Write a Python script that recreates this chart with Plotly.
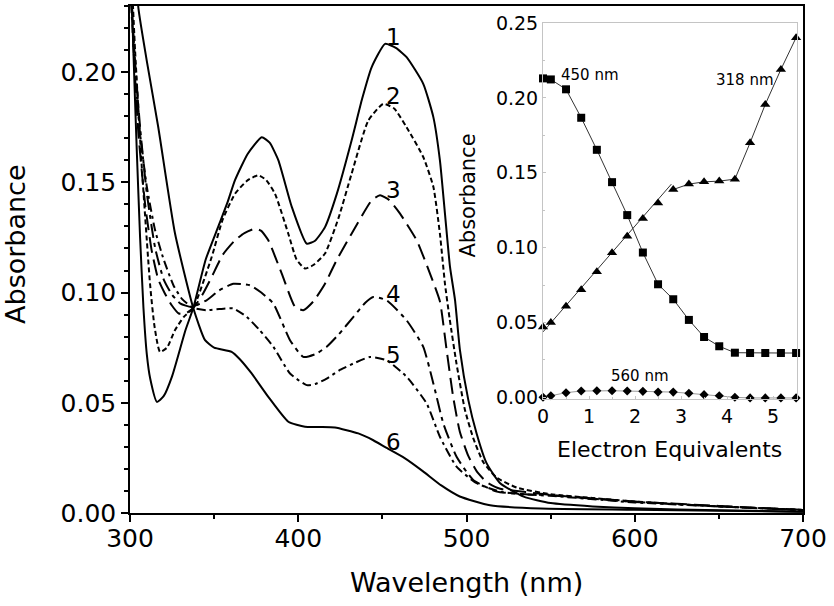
import plotly.graph_objects as go

# ---------------- main spectra (wavelength nm, absorbance) ----------------
wl1 = [300, 302, 304, 306, 308, 310, 312, 316, 320, 325, 333, 337.6, 345, 352.5, 358, 362.4, 370, 378.3, 383, 388.2,
       396.1, 405, 410, 415.9, 423, 431.7, 438, 443.6, 451.6, 458, 464.4, 474.3, 480.3, 484.2, 487.2, 490.2, 493.2,
       496.1, 501.1, 506, 512, 520, 534, 550, 575, 600, 650, 700]
ab1 = [0.262, 0.21, 0.165, 0.125, 0.093, 0.072, 0.061, 0.0504, 0.053, 0.062, 0.083, 0.093, 0.115, 0.13, 0.141, 0.151,
       0.163, 0.1705, 0.168, 0.160, 0.139, 0.1222, 0.1235, 0.1297, 0.145, 0.169, 0.188, 0.2022, 0.2128, 0.211, 0.2068,
       0.1947, 0.1796, 0.160, 0.1358, 0.1116, 0.0965, 0.0739, 0.0512, 0.0361, 0.0225, 0.0135, 0.0074, 0.0045, 0.003,
       0.0021, 0.0012, 0.0006]

wl2 = [300, 303, 307, 311.9, 314.5, 317.8, 322, 326.7, 332, 337.6, 348.5, 355, 362.4, 370, 376.3, 381, 386.2, 394.1,
       399, 404, 409, 415.9, 424, 431.7, 441.6, 450.5, 457, 464.4, 474.3, 480.3, 484.2, 487.2, 490, 494, 499, 504, 510,
       518, 530, 550, 575, 600, 650, 700]
ab2 = [0.26, 0.21, 0.157, 0.104, 0.085, 0.0731, 0.075, 0.0829, 0.089, 0.093, 0.116, 0.133, 0.1448, 0.151, 0.1532,
       0.151, 0.1448, 0.1267, 0.115, 0.1109, 0.1125, 0.1177, 0.134, 0.1539, 0.178, 0.1856, 0.1835, 0.175, 0.1615, 0.148,
       0.1267, 0.104, 0.088, 0.068, 0.047, 0.034, 0.023, 0.016, 0.0115, 0.0085, 0.0068, 0.0052, 0.003, 0.0014]

wl3 = [300, 302.5, 305, 309, 312.9, 316.8, 320.8, 325, 329, 333, 337.6, 343, 348.5, 355, 362.4, 368, 374.3, 378, 382.2,
       390.2, 398.1, 403, 409, 415.9, 423, 431.7, 443.6, 448.6, 454, 460.5, 470.4, 478.3, 484.2, 488, 492, 496, 501, 506,
       512, 520, 535, 550, 600, 650, 700]
ab3 = [0.25, 0.205, 0.172, 0.14, 0.119, 0.106, 0.0995, 0.094, 0.0905, 0.0905, 0.093, 0.099, 0.107, 0.117, 0.1237,
       0.127, 0.129, 0.128, 0.1237, 0.1086, 0.0935, 0.092, 0.096, 0.104, 0.115, 0.1267, 0.1418, 0.1441, 0.142, 0.1358,
       0.1237, 0.1086, 0.096, 0.075, 0.053, 0.037, 0.026, 0.019, 0.014, 0.011, 0.0095, 0.0082, 0.0052, 0.0032, 0.0014]

wl4 = [300, 303, 306, 310, 315, 320, 325, 330, 336.6, 345.5, 353, 361.4, 371.3, 378, 385.2, 395.1, 403, 410, 416.9,
       424, 432.7, 440, 444.6, 452.5, 464.4, 474.3, 480.3, 486.2, 494.1, 504, 518, 535, 550, 600, 650, 700]
ab4 = [0.245, 0.205, 0.175, 0.145, 0.12, 0.106, 0.099, 0.095, 0.0935, 0.0965, 0.101, 0.104, 0.1033, 0.1, 0.095,
       0.0784, 0.0708, 0.072, 0.0754, 0.081, 0.0889, 0.0955, 0.098, 0.0965, 0.0874, 0.0754, 0.0588, 0.0407, 0.0255,
       0.015, 0.0097, 0.0085, 0.008, 0.005, 0.003, 0.0013]

wl5 = [300, 303, 306, 310, 315, 320, 326, 331, 337.6, 345.5, 353, 361.4, 369.3, 377, 385.2, 395.1, 405, 410, 416.9,
       425, 432.7, 442.6, 452.5, 464.4, 476.3, 484.2, 494.1, 506, 520, 535, 550, 600, 650, 700]
ab5 = [0.24, 0.2, 0.172, 0.148, 0.128, 0.115, 0.103, 0.097, 0.093, 0.092, 0.0925, 0.0928, 0.089, 0.083, 0.0754,
       0.0633, 0.058, 0.0585, 0.061, 0.065, 0.0678, 0.0708, 0.0693, 0.0618, 0.0497, 0.0346, 0.021, 0.0135, 0.0097,
       0.0085, 0.0078, 0.0048, 0.003, 0.0013]

wl6 = [300, 303, 305, 310, 316.8, 326.7, 337.6, 344.6, 350, 360.4, 365, 372.3, 382.2, 394.1, 404, 413, 421.8, 435.7,
       444.6, 452.5, 463, 474, 485, 496, 514, 544, 600, 650, 700]
ab6 = [0.30, 0.255, 0.229, 0.205, 0.175, 0.127, 0.093, 0.0784, 0.075, 0.0731, 0.070, 0.0633, 0.0527, 0.0414, 0.0391,
       0.039, 0.0388, 0.0361, 0.033, 0.0295, 0.025, 0.019, 0.0125, 0.0075, 0.0035, 0.002, 0.0015, 0.001, 0.0006]

curve_labels = ["1", "2", "3", "4", "5", "6"]
label_wl = 456.5
label_ab = [0.2158, 0.1894, 0.1464, 0.0995, 0.0716, 0.0323]

# ---------------- inset titration data ----------------
equiv = [0, 0.17, 0.5, 0.83, 1.17, 1.5, 1.83, 2.17, 2.5, 2.83, 3.17, 3.5, 3.83, 4.17, 4.5, 4.83, 5.17, 5.5]
a450 = [0.213, 0.2123, 0.2057, 0.1867, 0.1653, 0.1437, 0.1217, 0.0967, 0.0755, 0.0655, 0.0517, 0.0403, 0.0341,
        0.0298, 0.0296, 0.0296, 0.0296, 0.0296]
a318 = [0.047, 0.0499, 0.0608, 0.0718, 0.0838, 0.0965, 0.1076, 0.1194, 0.1297, 0.1388, 0.1424, 0.1439, 0.1444,
        0.1457, 0.170, 0.1956, 0.219, 0.2402]
a560 = [0.0, 0.0011, 0.0031, 0.0042, 0.0044, 0.0044, 0.0042, 0.0040, 0.0035, 0.0035, 0.0027, 0.0018, 0.0011, 0.0,
        -0.0004, -0.0004, -0.0004, -0.0004]
fit318_x = [0, 2.79]
fit318_y = [0.0437, 0.1424]

FONT = "DejaVu Sans"

fig = go.Figure()

curves = [(wl1, ab1, "solid"), (wl2, ab2, "5px,3px"), (wl3, ab3, "16px,7px"),
          (wl4, ab4, "14px,5px,4px,5px"), (wl5, ab5, "9px,4px,3px,4px"), (wl6, ab6, "solid")]
for wl, ab, dash in curves:
    fig.add_trace(go.Scatter(x=wl, y=ab, mode="lines",
                             line=dict(color="black", width=2, dash=dash, shape="spline", smoothing=0.5),
                             showlegend=False, hoverinfo="skip"))

# inset traces
fig.add_trace(go.Scatter(x=equiv, y=a560, xaxis="x2", yaxis="y2", mode="lines+markers", cliponaxis=False,
                         line=dict(color="#9a9a9a", width=1),
                         marker=dict(symbol="diamond", size=7, color="black"), showlegend=False))
fig.add_trace(go.Scatter(x=equiv, y=a450, xaxis="x2", yaxis="y2", mode="lines+markers", cliponaxis=False,
                         line=dict(color="#333333", width=1),
                         marker=dict(symbol="square", size=8, color="black"), showlegend=False))
fig.add_trace(go.Scatter(x=fit318_x, y=fit318_y, xaxis="x2", yaxis="y2", mode="lines",
                         line=dict(color="#333333", width=1), showlegend=False))
fig.add_trace(go.Scatter(x=equiv[9:], y=a318[9:], xaxis="x2", yaxis="y2", mode="lines",
                         line=dict(color="#333333", width=1), showlegend=False))
fig.add_trace(go.Scatter(x=equiv, y=a318, xaxis="x2", yaxis="y2", mode="markers", cliponaxis=False,
                         marker=dict(symbol="triangle-up", size=9, color="black"), showlegend=False))

annotations = []
for t, a in zip(curve_labels, label_ab):
    annotations.append(dict(x=label_wl, y=a, xref="x", yref="y", text=t, showarrow=False,
                            xanchor="center", yanchor="middle",
                            font=dict(family=FONT, size=23, color="black")))
annotations += [
    dict(x=0.5, y=-0.138, xref="paper", yref="paper", text="Wavelength (nm)", showarrow=False,
         xanchor="center", yanchor="middle", font=dict(family=FONT, size=27, color="black")),
    dict(x=-0.1694, y=0.5306, xref="paper", yref="paper", text="Absorbance", textangle=-90, showarrow=False,
         xanchor="center", yanchor="middle", font=dict(family=FONT, size=27, color="black")),
    dict(x=0.8016, y=0.1243, xref="paper", yref="paper", text="Electron Equivalents", showarrow=False,
         xanchor="center", yanchor="middle", font=dict(family=FONT, size=22, color="black")),
    dict(x=0.503, y=0.6252, xref="paper", yref="paper", text="Absorbance", textangle=-90, showarrow=False,
         xanchor="center", yanchor="middle", font=dict(family=FONT, size=21, color="black")),
    dict(x=1.02, y=0.2152, xref="x2", yref="y2", text="450 nm", showarrow=False,
         xanchor="center", yanchor="middle", font=dict(family=FONT, size=15, color="black")),
    dict(x=4.39, y=0.2119, xref="x2", yref="y2", text="318 nm", showarrow=False,
         xanchor="center", yanchor="middle", font=dict(family=FONT, size=15, color="black")),
    dict(x=2.11, y=0.014, xref="x2", yref="y2", text="560 nm", showarrow=False,
         xanchor="center", yanchor="middle", font=dict(family=FONT, size=15, color="black")),
]

fig.update_layout(
    width=834, height=606,
    margin=dict(l=130, r=31, t=6, b=93, autoexpand=False),
    paper_bgcolor="white", plot_bgcolor="white",
    showlegend=False,
    annotations=annotations,
    xaxis=dict(domain=[0, 1], range=[300, 700], tick0=300, dtick=100, showgrid=False, zeroline=False,
               automargin=False, ticklabelstandoff=-5,
               showline=True, linecolor="black", linewidth=1.5, mirror=True,
               ticks="outside", ticklen=7, tickwidth=1.5, tickcolor="black",
               minor=dict(dtick=50, tick0=300, ticks="outside", ticklen=4, tickwidth=1.5, tickcolor="black"),
               tickfont=dict(family=FONT, size=25, color="black")),
    yaxis=dict(domain=[0, 1], range=[0, 0.23], tick0=0, dtick=0.05, tickformat=".2f", showgrid=False,
               automargin=False,
               zeroline=False, showline=True, linecolor="black", linewidth=1.5, mirror=True,
               ticks="outside", ticklen=7, tickwidth=1.5, tickcolor="black",
               minor=dict(dtick=0.01, tick0=0, ticks="outside", ticklen=4, tickwidth=1.5, tickcolor="black"),
               tickfont=dict(family=FONT, size=25, color="black")),
    xaxis2=dict(domain=[0.6137, 0.9911], anchor="y2", range=[0, 5.52], tick0=0, dtick=1, showgrid=False,
                automargin=False,
                zeroline=False, showline=True, linecolor="#c4c4c4", linewidth=1, mirror=True,
                ticks="inside", ticklen=3, tickcolor="#c4c4c4",
                minor=dict(dtick=0.5, ticks="inside", ticklen=2, tickcolor="#c4c4c4"),
                tickfont=dict(family=FONT, size=19, color="black")),
    yaxis2=dict(domain=[0.2249, 0.9665], anchor="x2", range=[-0.0011, 0.25], tick0=0, dtick=0.05,
                automargin=False,
                tickformat=".2f", showgrid=False, zeroline=False, showline=True, linecolor="#c4c4c4",
                linewidth=1, mirror=True, ticks="inside", ticklen=3, tickcolor="#c4c4c4",
                minor=dict(dtick=0.025, ticks="inside", ticklen=2, tickcolor="#c4c4c4"),
                tickfont=dict(family=FONT, size=19, color="black")),
)

fig.write_html("out.html", config={"displayModeBar": False},
               post_script="document.body.style.margin='0';document.body.style.overflow='hidden';")
